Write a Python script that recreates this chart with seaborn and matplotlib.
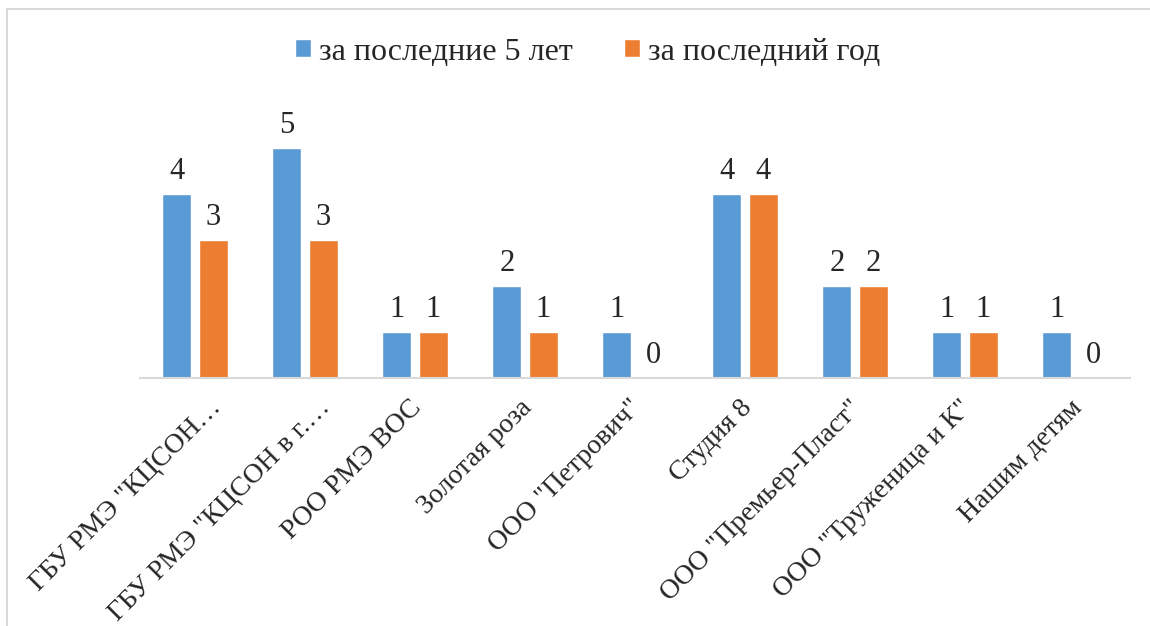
import pandas as pd
import matplotlib.pyplot as plt
import matplotlib.transforms as mtransforms
from matplotlib.patches import Rectangle
import seaborn as sns

# Data
organizations = ['ГБУ РМЭ "КЦСОН…', 'ГБУ РМЭ "КЦСОН в г.…', 'РОО РМЭ ВОС', 'Золотая роза',
                 'ООО "Петрович"', 'Студия 8', 'ООО "Премьер-Пласт"', 'ООО "Труженица и К"',
                 'Нашим детям']
last_5_years = [4, 5, 1, 2, 1, 4, 2, 1, 1]
last_year = [3, 3, 1, 1, 0, 4, 2, 1, 0]
series_names = ['за последние 5 лет', 'за последний год']

df = pd.DataFrame({
    'org': organizations * 2,
    'value': last_5_years + last_year,
    'series': [series_names[0]] * len(organizations) + [series_names[1]] * len(organizations),
})

sns.set_style('white')
plt.rcParams['font.family'] = ['Liberation Serif', 'DejaVu Serif']

fig = plt.figure(figsize=(11.5, 6.26), dpi=100)
ax = fig.add_axes([140 / 1150, 1 - 378 / 626, 990 / 1150, 276 / 626])

sns.barplot(data=df, x='org', y='value', hue='series', order=organizations,
            hue_order=series_names, palette=['#5B9BD5', '#ED7D31'], saturation=1,
            width=0.66, gap=0.2, ax=ax, legend=True)

for cont in ax.containers:
    ax.bar_label(cont, fontsize=22, padding=6)

ax.set_ylim(0, 6)
ax.set_xlim(-0.5, len(organizations) - 0.5)
ax.set_xlabel('')
ax.set_ylabel('')
ax.set_yticks([])
ax.tick_params(axis='x', length=0, pad=0)
for side in ['top', 'right', 'left']:
    ax.spines[side].set_visible(False)
ax.spines['bottom'].set_color('#D9D9D9')
ax.spines['bottom'].set_linewidth(1.5)

# rotated labels end near the tick; truncated ones (with …) sit a bit further right
for lbl in ax.get_xticklabels():
    dx = 22 if lbl.get_text().endswith('…') else 3
    offset = mtransforms.ScaledTranslation(dx / 100, -26 / 100, fig.dpi_scale_trans)
    lbl.set_rotation(45)
    lbl.set_ha('right')
    lbl.set_va('center')
    lbl.set_rotation_mode('anchor')
    lbl.set_fontsize(20)
    lbl.set_transform(lbl.get_transform() + offset)

ax.legend(loc='center', bbox_to_anchor=(588 / 1150, 1 - 52 / 626),
          bbox_transform=fig.transFigure, ncol=2, frameon=False, fontsize=23,
          handlelength=0.5, handleheight=0.5, handletextpad=0.25, columnspacing=1.6)

fig.patches.append(Rectangle((7 / 1150, -0.1), 1.2, 1 - 9 / 626 + 0.1,
                             transform=fig.transFigure, fill=False,
                             edgecolor='#D9D9D9', linewidth=1.5))

fig.savefig('out.png', dpi=100)
